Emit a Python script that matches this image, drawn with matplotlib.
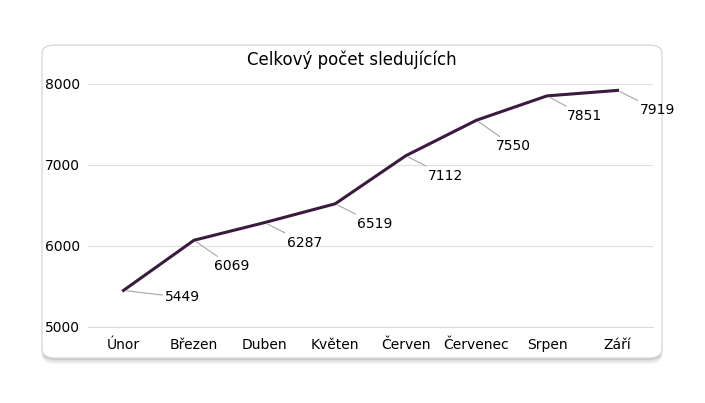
import matplotlib
matplotlib.use("Agg")
import matplotlib.pyplot as plt
from matplotlib.patches import FancyBboxPatch

mesice = ["Únor", "Březen", "Duben", "Květen", "Červen", "Červenec", "Srpen", "Září"]
sledujici = [5449, 6069, 6287, 6519, 7112, 7550, 7851, 7919]
# posun popisku (px) od bodu
posuny = [(42, -7), (20, -26), (22, -20), (22, -20), (22, -20), (20, -26), (20, -20), (22, -20)]

fig = plt.figure(figsize=(7.05, 4.03), dpi=100)
fig.patch.set_facecolor("white")

# ramecek grafu se stinem
for d, a in [(6, 0.05), (4, 0.07), (2, 0.1)]:
    fig.patches.append(FancyBboxPatch((42 / 705, 1 - 358 / 403 - d / 403), 620 / 705, 313 / 403,
                                      boxstyle="round,pad=0,rounding_size=0.02",
                                      transform=fig.transFigure, facecolor="black",
                                      alpha=a, edgecolor="none", zorder=-3))
fig.patches.append(FancyBboxPatch((42 / 705, 1 - 358 / 403), 620 / 705, 313 / 403,
                                  boxstyle="round,pad=0,rounding_size=0.02",
                                  transform=fig.transFigure, facecolor="white",
                                  edgecolor="#d9d9d9", zorder=-2))

ax = fig.add_axes([0.125, 0.189, 0.801, 0.603])
ax.set_facecolor("none")
x = list(range(len(mesice)))
ax.plot(x, sledujici, color="#3b1a3f", linewidth=2.2, zorder=3)

for i, v in enumerate(sledujici):
    dx, dy = posuny[i]
    ax.annotate(str(v), (i, v), xytext=(dx * 0.72, dy * 0.72), textcoords="offset points",
                fontsize=10, ha="left", va="center", color="black",
                arrowprops=dict(arrowstyle="-", color="#a6a6a6", lw=0.8, shrinkA=0, shrinkB=2))

ax.set_xlim(-0.5, len(mesice) - 0.5)
ax.set_ylim(5000, 8000)
ax.set_yticks([5000, 6000, 7000, 8000])
ax.set_xticks(x)
ax.set_xticklabels(mesice, fontsize=10)
ax.tick_params(axis="y", labelsize=10, length=0, pad=6)
ax.tick_params(axis="x", length=0, pad=8)
ax.grid(axis="y", color="#e0e0e0", linewidth=0.8)
ax.set_axisbelow(True)
for s in ["top", "right", "left"]:
    ax.spines[s].set_visible(False)
ax.spines["bottom"].set_color("#d9d9d9")

fig.text(352 / 705, 1 - 60 / 403, "Celkový počet sledujících", ha="center", va="center", fontsize=12)

fig.savefig("out.png", dpi=100)
